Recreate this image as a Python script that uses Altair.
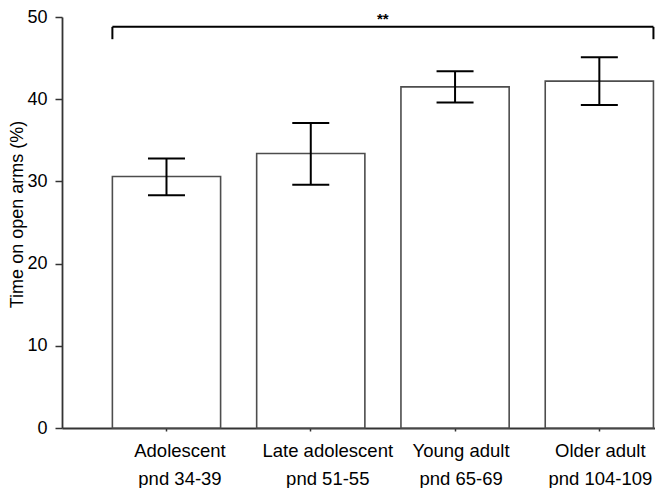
import altair as alt
import pandas as pd

# ---- data ----
stages = ["Adolescent", "Late adolescent", "Young adult", "Older adult"]
pnd_ranges = ["pnd 34-39", "pnd 51-55", "pnd 65-69", "pnd 104-109"]
means = [30.6, 33.4, 41.5, 42.2]
err_low = [28.3, 29.6, 39.6, 39.3]
err_high = [32.8, 37.1, 43.4, 45.1]

bracket_level = [48.8]
bracket_tip = [47.3]
star_level = [49.1]
star_text = ["**"]

y_ticks = [0, 10, 20, 30, 40, 50]

FONT = "Liberation Sans"

labels = [f"{s}|{p}" for s, p in zip(stages, pnd_ranges)]
df = pd.DataFrame({"group": labels, "mean": means, "lo": err_low, "hi": err_high})
df_br = pd.DataFrame({
    "group": [labels[0]], "end": [labels[-1]], "mid": [labels[1]], "last": [labels[-1]],
    "mean": bracket_level, "tip": bracket_tip, "sy": star_level, "txt": star_text,
})

x_scale = alt.Scale(domain=labels, paddingInner=0.25, paddingOuter=0.18, align=0.97)
y_scale = alt.Scale(domain=[0, 50], nice=False)

label_offsets = [13.5, 17, 6, 1]
offset_cond = {
    "condition": [
        {"test": f"datum.value == '{lab}'", "value": off}
        for lab, off in zip(labels, label_offsets)
    ],
    "value": 0,
}

x_axis = alt.Axis(
    title=None, labelExpr="split(datum.value, '|')", labelAngle=0,
    labelFont=FONT, labelFontSize=18.5, labelColor="#000", labelLineHeight=28,
    labelAlign="center", labelBaseline="top", labelPadding=10,
    labelOffset=offset_cond,
    tickSize=3, tickColor="#333", tickWidth=1.5,
    domainColor="#333", domainWidth=1.8,
)
y_axis = alt.Axis(
    title="Time on open arms (%)", values=y_ticks, grid=False,
    tickSize=7, tickColor="#333", tickWidth=1.5, labelPadding=8,
    labelFont=FONT, labelFontSize=18, labelColor="#000",
    titleFont=FONT, titleFontSize=18, titleFontWeight="normal", titleColor="#000",
    titleX=-40, titleY=197, titleBaseline="alphabetic", titleAngle=270, titleAlign="center",
    domainColor="#333", domainWidth=1.8,
)


def X(field, **kw):
    return alt.X(field, scale=x_scale, axis=x_axis, **kw)


def Y(field, **kw):
    return alt.Y(field, scale=y_scale, axis=y_axis, **kw)


base = alt.Chart(df)
bars = base.mark_bar(fill="white", stroke="#4d4d4d", strokeWidth=1.6).encode(
    x=X("group:N"),
    y=Y("mean:Q"),
)
stems = base.mark_rule(color="black", strokeWidth=2).encode(
    x=X("group:N"),
    y=Y("lo:Q"),
    y2="hi:Q",
)
caps = base.transform_fold(["lo", "hi"], as_=["end", "val"]).mark_tick(
    color="black", thickness=2, size=37, orient="horizontal", opacity=1
).encode(
    x=X("group:N"),
    y=Y("val:Q"),
)

br = alt.Chart(df_br)
br_h = br.mark_rule(color="black", strokeWidth=2).encode(
    x=X("group:N", bandPosition=0),
    x2=alt.X2("end:N", bandPosition=1),
    y=Y("mean:Q"),
)
br_l = br.mark_rule(color="black", strokeWidth=2).encode(
    x=X("group:N", bandPosition=0),
    y=Y("mean:Q"),
    y2="tip:Q",
)
br_r = br.mark_rule(color="black", strokeWidth=2).encode(
    x=X("last:N", bandPosition=1),
    y=Y("mean:Q"),
    y2="tip:Q",
)
stars = br.mark_text(font=FONT, fontSize=15, fontWeight="bold", baseline="alphabetic",
                     align="center", dx=18, color="black").encode(
    x=X("mid:N", bandPosition=1),
    y=Y("sy:Q"),
    text="txt:N",
)

chart = alt.layer(bars, stems, caps, br_h, br_l, br_r, stars).properties(
    width=593, height=411,
    background="white",
    autosize=alt.AutoSizeParams(type="none"),
    padding={"left": 54, "top": 9, "right": 0, "bottom": 60},
).configure_view(stroke=None)

chart.save("out.html", embed_options={"renderer": "svg", "actions": False})
